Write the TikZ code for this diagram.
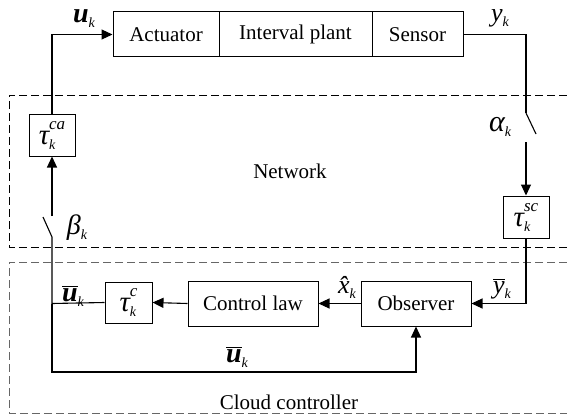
\documentclass[tikz,border=0pt]{standalone}
\usepackage{fontspec}
\setmainfont{Liberation Serif}
\usetikzlibrary{arrows.meta}
\newcommand\subk{\raisebox{-5pt}{\fontsize{14}{14}\selectfont\itshape k}}
\newcommand\biglab[2][26]{{\fontsize{#1}{#1}\selectfont\itshape #2}}
\newcommand\boldu{{\fontsize{28}{28}\selectfont\bfseries\itshape u}}
\newcommand\ovl[1]{\vbox{\hrule height 1.5pt \kern 1.2pt \hbox{#1}}}
\newcommand\taulab[1]{{\fontsize{29}{29}\selectfont\itshape τ}\raisebox{-5pt}{\vbox{\baselineskip=20pt\lineskiplimit=-100pt
  \hbox{\fontsize{17}{17}\selectfont\itshape #1}\hbox{\fontsize{14}{14}\selectfont\itshape k}}}}
\begin{document}
\begin{tikzpicture}[x=1pt,y=-1pt,
  blk/.style={draw, line width=1pt, inner sep=0pt, font=\fontsize{21}{21}\selectfont},
  ln/.style={line width=1.1pt},
  arr/.style={line width=1.1pt, -{Triangle[length=11pt,width=10pt]}},
  net/.style={dash pattern=on 8pt off 4pt, line width=0.9pt},
  cloud/.style={dash pattern=on 8pt off 4pt, line width=1pt, draw=black!60},
  lab/.style={inner sep=0pt}]
\useasboundingbox (0,0) rectangle (567,417);
% dashed regions
\draw[net] (567,95) -- (9,95) -- (9,247) -- (567,247);
\draw[cloud] (567,262) -- (9,262) -- (9,413) -- (567,413);
% blocks
\node[blk, minimum width=106pt, minimum height=45pt] (act) at (166,34.5) {Actuator};
\node[blk, minimum width=153pt, minimum height=45pt] (plant) at (295.5,34.5) {Interval plant};
\node[blk, minimum width=91pt, minimum height=45pt] (sens) at (417.5,34.5) {Sensor};
\node[blk, minimum width=46pt, minimum height=41pt] (tauca) at (52,135.5) {\taulab{ca}};
\node[blk, minimum width=46pt, minimum height=42pt] (tausc) at (526,217) {\taulab{sc}};
\node[blk, minimum width=47pt, minimum height=41pt] (tauc) at (128.5,302.5) {\taulab{c}};
\node[blk, minimum width=130pt, minimum height=45pt] (ctrl) at (253,303.5) {Control law};
\node[blk, minimum width=110pt, minimum height=45pt] (obs) at (416,303.5) {Observer};
% switch points
\coordinate (a1) at (526,113);
\coordinate (a2) at (536,134);
\coordinate (a3) at (526,142);
\coordinate (b1) at (52,216);
\coordinate (b2) at (43,217);
\coordinate (b3) at (52,237);
\coordinate (j) at (52,303.5);
\coordinate (fb) at (52,372);
% connectors
\draw[arr] (tauca.north) |- (act.west);
\draw[ln] (sens.east) -| (a1);
\draw[ln] (a1) -- (a2);
\draw[arr] (a3) -- (tausc.north);
\draw[arr] (tausc.south) |- (obs.east);
\draw[arr] (obs.west) -- (ctrl.east);
\draw[arr] (ctrl.west) -- (tauc.east);
\draw[ln] (tauc.west) -- (j) -- (b3) -- (b2);
\draw[arr] (b1) -- (tauca.south);
\draw[arr] (j) -- (fb) -| (obs.south);
% labels
\node[lab] (lu) at (84,19) {\boldu\subk};
\node[lab] (ly) at (500,18) {\biglab{y}\subk};
\node[lab] (la) at (500,127) {\biglab[30]{α}\subk};
\node[lab] (lb) at (77,228) {\biglab[28]{β}\subk};
\node[lab] (lub) at (73,296) {\ovl{\boldu}\subk};
\node[lab] (lx) at (347,287) {\biglab{\^x}\subk};
\node[lab] (lyb) at (502,289) {\ovl{\biglab{y}}\subk};
\node[lab] (lub2) at (237,357) {\ovl{\boldu}\subk};
\node[lab, font=\fontsize{21}{21}\selectfont] (net) at (290,171) {Network};
\node[lab, font=\fontsize{21}{21}\selectfont] (cc) at (289,402) {Cloud controller};
\end{tikzpicture}
\end{document}
